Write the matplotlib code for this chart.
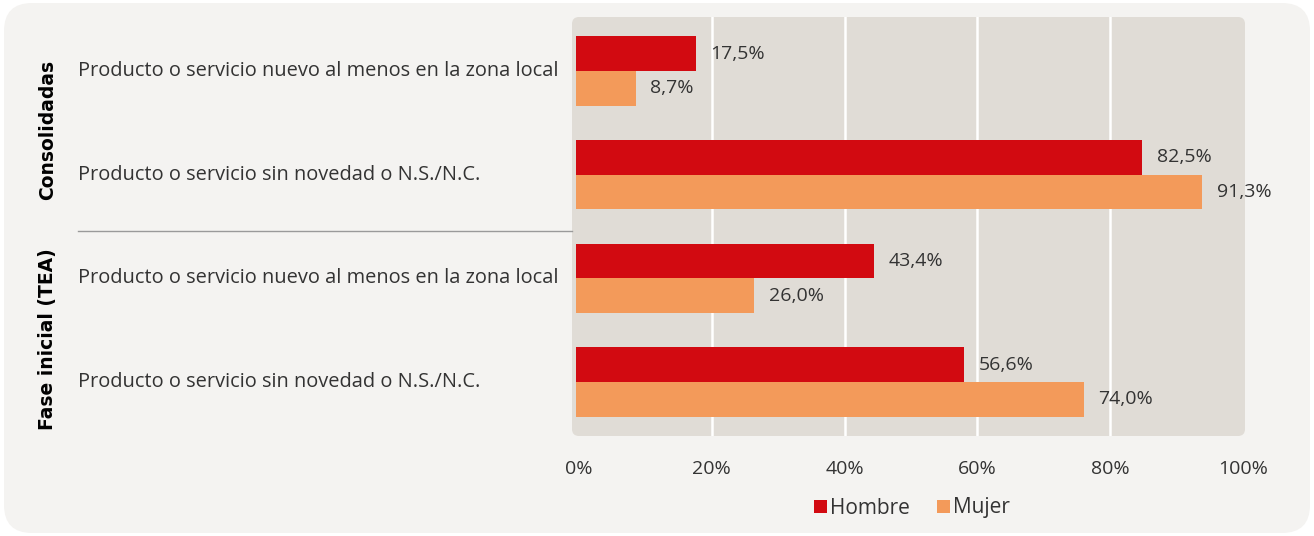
import matplotlib.pyplot as plt
from matplotlib.patches import FancyBboxPatch
from matplotlib.lines import Line2D
from matplotlib.transforms import blended_transform_factory

# data
categorias = [
    "Producto o servicio nuevo al menos en la zona local",
    "Producto o servicio sin novedad o N.S./N.C.",
    "Producto o servicio nuevo al menos en la zona local",
    "Producto o servicio sin novedad o N.S./N.C.",
]
grupos = ["Consolidadas", "Fase inicial (TEA)"]
hombre = [17.5, 82.5, 43.4, 56.6]
mujer = [8.7, 91.3, 26.0, 74.0]
ticks = [0, 20, 40, 60, 80, 100]
tick_labels = ["0%", "20%", "40%", "60%", "80%", "100%"]

ROJO = "#d20a11"
NARANJA = "#f39a5a"
FONDO = "#f4f3f1"
FONDO_EJES = "#e0dcd6"
TEXTO = "#333333"

plt.rcParams['font.family'] = ['Open Sans', 'DejaVu Sans']

fig = plt.figure(figsize=(13.14, 5.36), dpi=100)
fig.patch.set_facecolor("white")

# rounded background card and plot panel (inches)
fig.patches.append(FancyBboxPatch((0.04 + 0.28, 0.03 + 0.28), 13.06 - 0.56, 5.30 - 0.56,
                                  boxstyle="round,pad=0.28", transform=fig.dpi_scale_trans,
                                  facecolor=FONDO, edgecolor="none", zorder=-2))
fig.patches.append(FancyBboxPatch((5.72 + 0.07, 1.00 + 0.07), 6.73 - 0.14, 4.19 - 0.14,
                                  boxstyle="round,pad=0.07", transform=fig.dpi_scale_trans,
                                  facecolor=FONDO_EJES, edgecolor="none", zorder=-1))

ax = fig.add_axes([572 / 1314, 100 / 536, 673 / 1314, 419 / 536])
ax.patch.set_visible(False)

# percentage scale axis with grid
ax2 = ax.twiny()
ax2.patch.set_visible(False)
ax2.set_xlim(-1.05, 100.3)
ax2.set_xticks(ticks)
ax2.set_xticklabels(tick_labels)
ax2.xaxis.set_ticks_position("bottom")
ax2.xaxis.set_label_position("bottom")
ax2.tick_params(axis="x", length=0, pad=17, labelsize=14, labelcolor=TEXTO)
for t in ticks[1:-1]:
    ax2.axvline(t, color="white", lw=1.8, zorder=1)
for s in ax2.spines.values():
    s.set_visible(False)

ax.set_zorder(ax2.get_zorder() + 1)

y = list(range(len(categorias)))
h = 0.333
ax.barh([v - h / 2 for v in y], hombre, height=h, color=ROJO, label="Hombre", zorder=2)
ax.barh([v + h / 2 for v in y], mujer, height=h, color=NARANJA, label="Mujer", zorder=2)
ax.set_xlim(-0.58, 97.5)
ax.set_ylim(3.521, -0.521)
ax.set_xticks([])
ax.set_yticks([])
for s in ax.spines.values():
    s.set_visible(False)

for i, (hv, mv) in enumerate(zip(hombre, mujer)):
    ax.annotate(f"{hv:.1f}%".replace(".", ","), (hv, i - h / 2), xytext=(10.5, 0),
                textcoords="offset points", va="center", ha="left", fontsize=14,
                color=TEXTO)
    ax.annotate(f"{mv:.1f}%".replace(".", ","), (mv, i + h / 2), xytext=(10.5, 0),
                textcoords="offset points", va="center", ha="left", fontsize=14,
                color=TEXTO)

# category labels on the left
tr = blended_transform_factory(fig.transFigure, ax.transData)
for i, c in enumerate(categorias):
    ax.text(78 / 1314, i, c, transform=tr, ha="left", va="center", fontsize=14.4,
            color=TEXTO)

# group labels and separator
fig.text(48 / 1314, 1 - 130 / 536, grupos[0], rotation=90, ha="center", va="center",
         fontsize=13.5, fontweight="bold", color="black", family="DejaVu Sans")
fig.text(48 / 1314, 1 - 339 / 536, grupos[1], rotation=90, ha="center", va="center",
         fontsize=13.5, fontweight="bold", color="black", family="DejaVu Sans")
fig.lines.append(Line2D([78 / 1314, 572 / 1314], [1 - 231 / 536, 1 - 231 / 536],
                        transform=fig.transFigure, color="#9a9a9a", lw=1))

leg = ax.legend(loc="center", bbox_to_anchor=(912 / 1314, 1 - 508 / 536),
                bbox_transform=fig.transFigure, ncol=2, frameon=False,
                handlelength=0.6, handleheight=0.6, handletextpad=0.15,
                columnspacing=1.3, fontsize=15)
for t in leg.get_texts():
    t.set_color(TEXTO)

fig.savefig("out.png", dpi=100)
